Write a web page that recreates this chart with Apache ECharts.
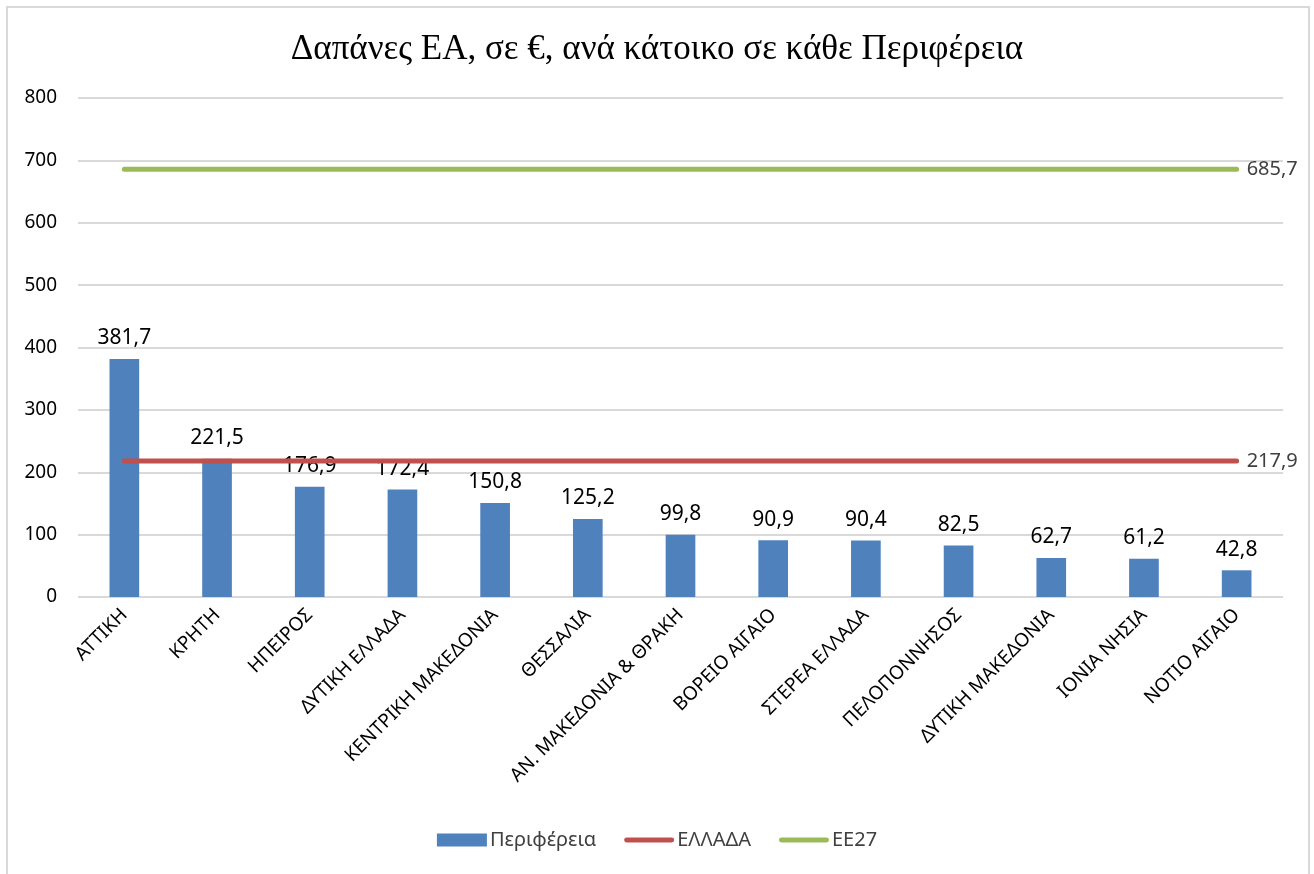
<!DOCTYPE html>
<html>
<head>
<meta charset="utf-8">
<script src="https://cdn.jsdelivr.net/npm/echarts@6/dist/echarts.min.js"></script>
<style>
  html, body { margin: 0; padding: 0; background: #fff; }
  #chart { width: 1314px; height: 874px; }
  .frame {
    position: absolute; left: 6px; top: 6px; width: 1304px; height: 880px;
    border: 2px solid #d9d9d9; pointer-events: none; box-sizing: border-box;
  }
</style>
</head>
<body>
<div id="chart"></div>
<div class="frame"></div>
<script>
// κατηγορίες (Περιφέρειες)
const regions = [
  "ΑΤΤΙΚΗ", "ΚΡΗΤΗ", "ΗΠΕΙΡΟΣ", "ΔΥΤΙΚΗ ΕΛΛΑΔΑ", "ΚΕΝΤΡΙΚΗ ΜΑΚΕΔΟΝΙΑ",
  "ΘΕΣΣΑΛΙΑ", "ΑΝ. ΜΑΚΕΔΟΝΙΑ & ΘΡΑΚΗ", "ΒΟΡΕΙΟ ΑΙΓΑΙΟ", "ΣΤΕΡΕΑ ΕΛΛΑΔΑ",
  "ΠΕΛΟΠΟΝΝΗΣΟΣ", "ΔΥΤΙΚΗ ΜΑΚΕΔΟΝΙΑ", "ΙΟΝΙΑ ΝΗΣΙΑ", "ΝΟΤΙΟ ΑΙΓΑΙΟ"
];
const regionValues = [381.7, 221.5, 176.9, 172.4, 150.8, 125.2, 99.8, 90.9, 90.4, 82.5, 62.7, 61.2, 42.8];
const greeceValue = 217.9;
const eu27Value = 685.7;
const greeceLine = regions.map(() => greeceValue);
const eu27Line = regions.map(() => eu27Value);

const fmt = v => String(v).replace(".", ",");
const sans = "'Noto Sans', 'Open Sans', sans-serif";
// παχιά γραμμή για το υπόμνημα
const lineIcon = "path://M2,0 L48,0 A2,2 0 0 1 48,5 L2,5 A2,2 0 0 1 2,0 Z";

const myChart = echarts.init(document.getElementById("chart"));
myChart.setOption({
  animation: false,
  title: {
    text: "Δαπάνες ΕΑ, σε €, ανά κάτοικο σε κάθε Περιφέρεια",
    left: "center",
    top: 27,
    textStyle: {
      fontFamily: "'Liberation Serif', 'DejaVu Serif', serif",
      fontWeight: "normal",
      fontSize: 35,
      color: "#000"
    }
  },
  legend: {
    bottom: 19,
    left: "center",
    itemGap: 28,
    itemWidth: 50,
    itemHeight: 13,
    symbolKeepAspect: true,
    textStyle: { fontFamily: sans, fontSize: 20, color: "#404040", padding: [0, 0, 0, -2] },
    data: [
      { name: "Περιφέρεια", icon: "rect" },
      { name: "ΕΛΛΑΔΑ", icon: lineIcon },
      { name: "ΕΕ27", icon: lineIcon }
    ]
  },
  grid: { left: 78, right: 31, top: 98, bottom: 277, containLabel: false },
  xAxis: {
    type: "category",
    data: regions,
    axisLine: { show: false },
    axisTick: { show: false },
    axisLabel: {
      rotate: 45,
      interval: 0,
      margin: 15,
      fontFamily: sans,
      fontSize: 19,
      color: "#000"
    }
  },
  yAxis: {
    type: "value",
    min: 0,
    max: 800,
    interval: 100,
    axisLine: { show: false },
    axisTick: { show: false },
    axisLabel: { fontFamily: sans, fontSize: 19, color: "#000", margin: 21 },
    splitLine: { lineStyle: { color: "#d9d9d9", width: 2 } }
  },
  series: [
    {
      name: "Περιφέρεια",
      type: "bar",
      data: regionValues,
      barWidth: "32%",
      itemStyle: { color: "#4f81bd" },
      label: {
        show: true,
        position: "top",
        distance: 10,
        fontFamily: sans,
        fontSize: 21,
        color: "#000",
        formatter: p => fmt(p.value)
      }
    },
    {
      name: "ΕΛΛΑΔΑ",
      type: "line",
      data: greeceLine,
      symbol: "none",
      lineStyle: { color: "#c0504d", width: 5, cap: "round" },
      itemStyle: { color: "#c0504d" },
      endLabel: {
        show: true,
        distance: 10,
        fontFamily: sans,
        fontSize: 20,
        color: "#404040",
        formatter: p => fmt(p.value)
      }
    },
    {
      name: "ΕΕ27",
      type: "line",
      data: eu27Line,
      symbol: "none",
      lineStyle: { color: "#9bbb59", width: 5, cap: "round" },
      itemStyle: { color: "#9bbb59" },
      endLabel: {
        show: true,
        distance: 10,
        fontFamily: sans,
        fontSize: 20,
        color: "#404040",
        formatter: p => fmt(p.value)
      }
    }
  ]
});
</script>
</body>
</html>
